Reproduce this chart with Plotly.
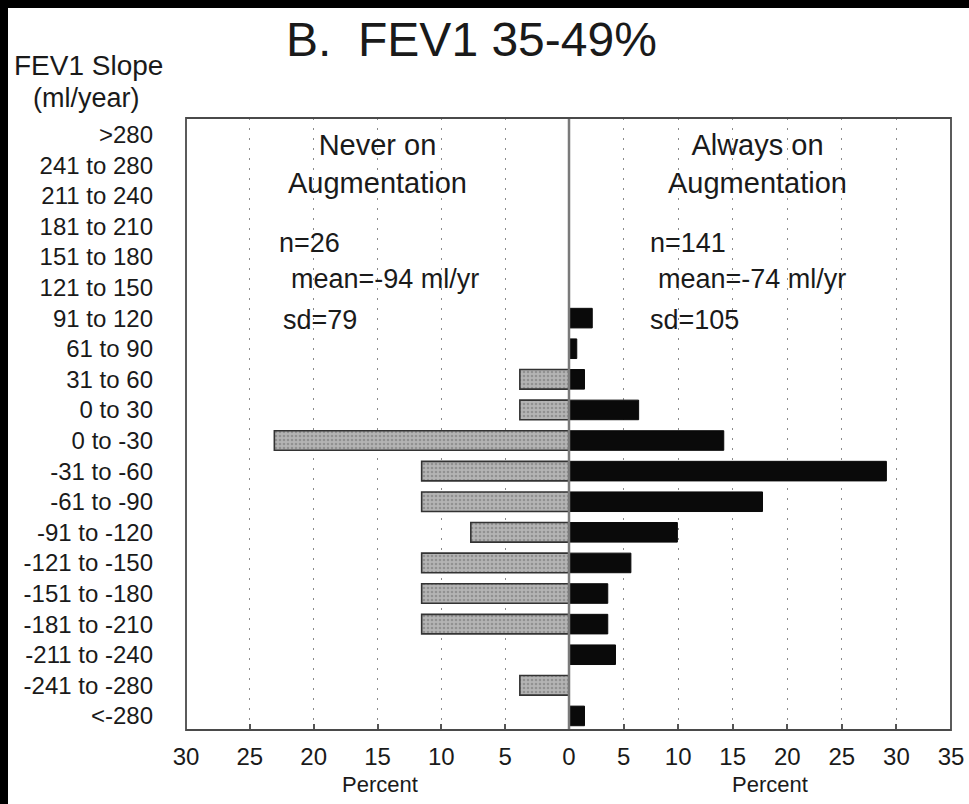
import plotly.graph_objects as go

# FEV1 slope classes (ml/year), top to bottom
slope_classes = [">280", "241 to 280", "211 to 240", "181 to 210", "151 to 180",
                 "121 to 150", "91 to 120", "61 to 90", "31 to 60", "0 to 30",
                 "0 to -30", "-31 to -60", "-61 to -90", "-91 to -120",
                 "-121 to -150", "-151 to -180", "-181 to -210", "-211 to -240",
                 "-241 to -280", "<-280"]

# Percent of patients in each class
never_pct = [0, 0, 0, 0, 0, 0, 0, 0, 3.85, 3.85,
             23.08, 11.54, 11.54, 7.69, 11.54, 11.54, 11.54, 0, 3.85, 0]
always_pct = [0, 0, 0, 0, 0, 0, 2.13, 0.71, 1.42, 6.38,
              14.18, 29.08, 17.73, 9.93, 5.67, 3.55, 3.55, 4.26, 0, 1.42]

left_ticks = [30, 25, 20, 15, 10, 5, 0]
right_ticks = [5, 10, 15, 20, 25, 30, 35]

FONT = "Liberation Sans, Arial, Helvetica, sans-serif"

# page geometry of the plotting frame (pixels)
L, R, T, B = 186, 951, 118, 730
W, H = 969, 804
SPLIT = 569


def px(x):
    return (x - L) / (R - L)


def py(y):
    return (B - y) / (B - T)


def nz(vals):
    return [v if v else None for v in vals]


fig = go.Figure()

fig.add_trace(go.Bar(
    y=slope_classes, x=nz(never_pct), orientation="h",
    xaxis="x", yaxis="y", width=0.64,
    marker=dict(color="#aaaaaa",
                line=dict(color="#333333", width=1.6),
                pattern=dict(shape=".", fgcolor="#6e6e6e", bgcolor="#b4b4b4",
                             size=4, solidity=0.35)),
    name="Never on Augmentation", showlegend=False,
))
fig.add_trace(go.Bar(
    y=slope_classes, x=nz(always_pct), orientation="h",
    xaxis="x2", yaxis="y", width=0.64,
    marker=dict(color="#0a0a0a", line=dict(color="#0a0a0a", width=1)),
    name="Always on Augmentation", showlegend=False,
))

split = px(SPLIT)
grid = dict(showgrid=True, gridcolor="#8c8c8c", gridwidth=1, griddash="2px,8px")
xcommon = dict(ticks="inside", ticklen=6, tickcolor="#555", tickwidth=1.5,
               tickfont=dict(size=24), ticklabelstandoff=10, automargin=False,
               zeroline=False, showline=False, anchor="y", fixedrange=True, **grid)

fig.update_layout(
    width=W, height=H,
    margin=dict(l=L, r=W - R, t=T, b=H - B, pad=0, autoexpand=False),
    paper_bgcolor="white", plot_bgcolor="white",
    font=dict(family=FONT, color="#1a1a1a"),
    xaxis=dict(domain=[0, split], range=[30, 0], tickvals=left_ticks, **xcommon),
    xaxis2=dict(domain=[split, 1], range=[0, 35], tickvals=right_ticks, **xcommon),
    yaxis=dict(type="category", categoryorder="array", categoryarray=slope_classes,
               range=[19.46, -0.54], showgrid=False, zeroline=False, automargin=False,
               ticks="", tickfont=dict(size=24), ticklabelstandoff=32,
               showline=False, fixedrange=True),
)

shapes = [
    # zero line between the two panels
    dict(type="line", xref="paper", yref="paper", x0=split, x1=split, y0=0, y1=1,
         line=dict(color="#7a7a7a", width=2.5), layer="above"),
    # frame
    dict(type="rect", xref="paper", yref="paper", x0=0, x1=1, y0=0, y1=1,
         line=dict(color="#4a4a4a", width=1.8), layer="above"),
    # dark scan borders along top and left edges
    dict(type="rect", xref="paper", yref="paper", x0=px(0), x1=px(W), y0=py(0), y1=py(8),
         line=dict(width=0), fillcolor="black", layer="above"),
    dict(type="rect", xref="paper", yref="paper", x0=px(0), x1=px(8), y0=py(0), y1=py(H),
         line=dict(width=0), fillcolor="black", layer="above"),
]
fig.update_layout(shapes=shapes)

ann = []


def text(x, y, s, size, anchor="center"):
    ann.append(dict(x=px(x), y=py(y), xref="paper", yref="paper", text=s,
                    showarrow=False, xanchor=anchor, yanchor="middle",
                    font=dict(family=FONT, size=size, color="#1a1a1a")))


text(471, 39, "B.&nbsp; FEV1 35-49%", 48)
text(88, 65, "FEV1 Slope", 28)
text(87, 98, "(ml/year)", 27)
text(377, 164, "Never on<br>Augmentation", 29)
text(757, 164, "Always on<br>Augmentation", 29)
text(277, 243, "n=26", 27, "left")
text(289, 279, "mean=-94 ml/yr", 27, "left")
text(281, 320, "sd=79", 27, "left")
text(648, 243, "n=141", 27, "left")
text(656, 279, "mean=-74 ml/yr", 27, "left")
text(648, 320, "sd=105", 27, "left")
text(380, 784, "Percent", 22)
text(770, 784, "Percent", 22)

fig.update_layout(annotations=ann)

fig.write_html("out.html")
